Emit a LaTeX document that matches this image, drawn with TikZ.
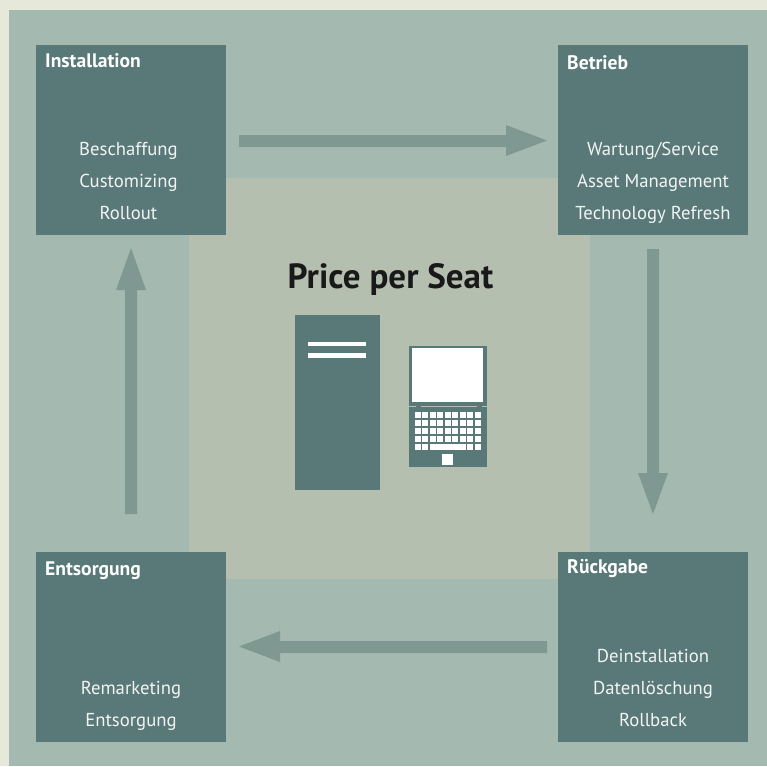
\documentclass[tikz,border=0pt]{standalone}
\usepackage{fontspec}
\setmainfont{PT Sans}
\definecolor{pagebg}{HTML}{E6E9DA}
\definecolor{panelbg}{HTML}{A4BAB0}
\definecolor{centerbg}{HTML}{B4BFAF}
\definecolor{boxteal}{HTML}{597878}
\definecolor{arrowteal}{HTML}{7F9891}
\tikzset{
  stagebox/.style={fill=boxteal,draw=none,minimum width=190pt,minimum height=190pt,inner sep=0pt,anchor=north west},
  stagetitle/.style={anchor=base west,text=white,font=\fontsize{19.6}{21}\selectfont\bfseries,inner sep=0pt},
  stageline/.style={anchor=base,text=white!92!boxteal,font=\fontsize{18.7}{22}\selectfont,inner sep=0pt},
  flow/.style={draw=none,fill=arrowteal},
  white fill/.style={fill=white,draw=none}
}
\begin{document}
\begin{tikzpicture}[x=1pt,y=-1pt]
\useasboundingbox (0,0) rectangle (767,766);
\fill[pagebg] (0,0) rectangle (767,766);
\fill[panelbg] (9,10) rectangle (767,766);
\fill[centerbg] (189,178) rectangle (590,579);
% stage boxes
\node[stagebox] (inst) at (36,45) {};
\node[stagebox] (betr) at (558,45) {};
\node[stagebox] (entz) at (36,552) {};
\node[stagebox] (rueck) at (558,552) {};
% titles
\node[stagetitle] at (45,67) {Installation};
\node[stagetitle] at (567,69) {Betrieb};
\node[stagetitle] at (45,575.5) {Entsorgung};
\node[stagetitle] at (567,573.5) {Rückgabe};
% lines
\node[stageline] at (128.5,155) {Beschaffung};
\node[stageline] at (128.5,187) {Customizing};
\node[stageline] at (128.5,219) {Rollout};
\node[stageline] at (653,155) {Wartung/Service};
\node[stageline] at (653,187) {Asset Management};
\node[stageline] at (653,219) {Technology Refresh};
\node[stageline] at (131,694) {Remarketing};
\node[stageline] at (131,726) {Entsorgung};
\node[stageline] at (653,662) {Deinstallation};
\node[stageline] at (653,694) {Datenlöschung};
\node[stageline] at (653,726) {Rollback};
% arrows
\fill[flow] (239,135) -- (506,135) -- (506,125) -- (547,140.5) -- (506,156) -- (506,147) -- (239,147) -- cycle;
\fill[flow] (647,249) -- (659,249) -- (659,473) -- (668,473) -- (653,514) -- (638,473) -- (647,473) -- cycle;
\fill[flow] (547,641) -- (280,641) -- (280,631) -- (239,646.5) -- (280,662) -- (280,653) -- (547,653) -- cycle;
\fill[flow] (125,514) -- (137,514) -- (137,290) -- (146,290) -- (131,248) -- (116,290) -- (125,290) -- cycle;
% title
\node[anchor=base,text=black!90,font=\fontsize{35}{37}\selectfont\bfseries,inner sep=0pt] (ttl) at (390.5,288) {Price per Seat};
% tower
\fill[boxteal] (295,315) rectangle (380,490);
\fill[white fill] (308,342) rectangle (366,346.3);
\fill[white fill] (308,353) rectangle (366,357.5);
% laptop
\fill[boxteal] (409,345.5) rectangle (487,467);
\fill[white fill] (412,348) rectangle (483,402);
\fill[centerbg] (409,405.8) rectangle (416,406.8);
\fill[centerbg] (421,405.8) rectangle (477,406.8);
\fill[centerbg] (482,405.8) rectangle (487,406.8);
\foreach \r in {0,1,2,3}{
  \foreach \c in {415,422,430,437,445,452,460,467,475}{
    \fill[white fill] ({\c},{412+8*\r}) rectangle ++(6,6);
  }
}
\foreach \c in {415,422,467,475}{ \fill[white fill] (\c,444) rectangle ++(6,6); }
\fill[white fill] (430,444) rectangle (466,450);
\fill[white fill] (442,454) rectangle (453,465);
\end{tikzpicture}
\end{document}
